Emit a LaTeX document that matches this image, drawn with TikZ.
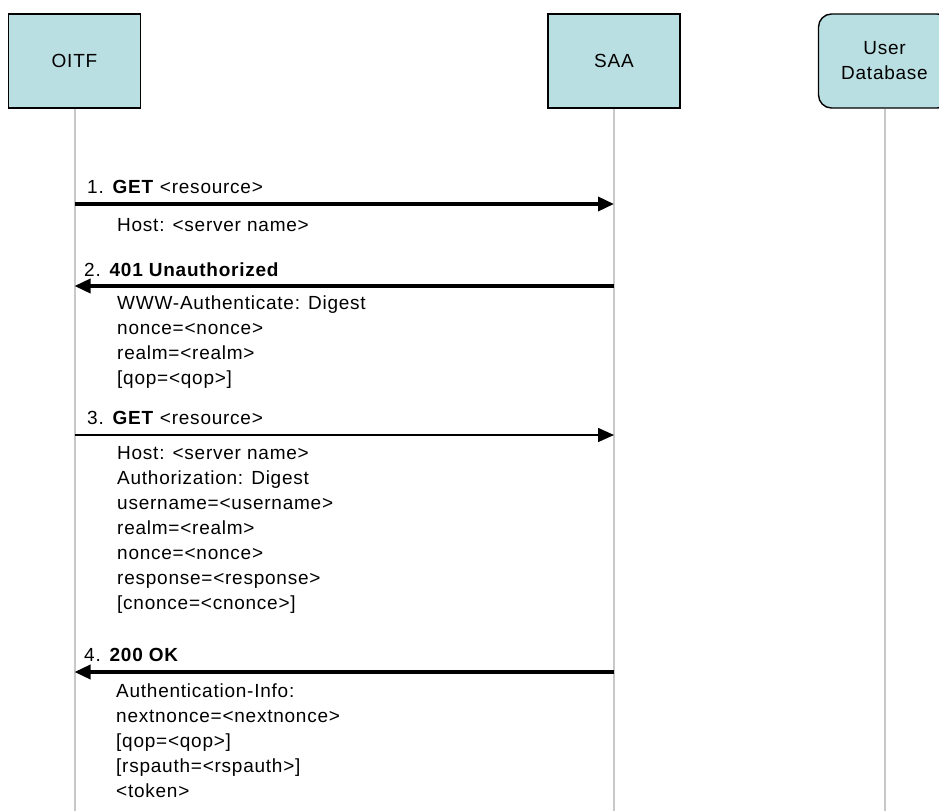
\documentclass[tikz,border=0pt]{standalone}
\usepackage{fontspec}
\setmainfont{Liberation Sans}[LetterSpace=4]
\usetikzlibrary{arrows.meta,positioning}
\definecolor{actorfill}{RGB}{186,223,226}
\definecolor{lifegray}{RGB}{200,200,200}

\begin{document}
\begin{tikzpicture}[x=1pt, y=1pt,
    actor/.style={rectangle, draw=black, line width=1.4pt, fill=actorfill, minimum width=132pt, minimum height=94pt, align=center, font=\fontsize{19}{25}\selectfont},
    store/.style={actor, rounded corners=13pt},
    lifeline/.style={lifegray, line width=2pt},
    msg/.style={-{Triangle[length=16pt,width=14pt]}, line width=3.5pt},
    thinmsg/.style={msg, line width=1.6pt},
    msgtext/.style={anchor=base west, inner sep=0pt, font=\fontsize{19}{25}\selectfont},
    msgbody/.style={msgtext, align=left}
  ]
    \useasboundingbox (0,0) rectangle (939,-811);

    % Actors
    \node[actor] (oitf) at (74.5,-61) {OITF};
    \node[actor] (saa) at (614,-61) {SAA};
    \node[store] (userdb) at (884.5,-61) {User\\Database};

    % Lifelines
    \coordinate (oitf end) at (oitf |- 0,-811);
    \coordinate (saa end) at (saa |- 0,-811);
    \coordinate (userdb end) at (userdb |- 0,-811);
    \draw[lifeline] (oitf) -- (oitf end);
    \draw[lifeline] (saa) -- (saa end);
    \draw[lifeline] (userdb) -- (userdb end);

    % Message points
    \coordinate (o1) at (oitf |- 0,-204);
    \coordinate (s1) at (saa |- 0,-204);
    \coordinate (o2) at (oitf |- 0,-286);
    \coordinate (s2) at (saa |- 0,-286);
    \coordinate (o3) at (oitf |- 0,-435);
    \coordinate (s3) at (saa |- 0,-435);
    \coordinate (o4) at (oitf |- 0,-672);
    \coordinate (s4) at (saa |- 0,-672);

    % Messages
    \draw[msg] (o1) -- (s1);
    \draw[msg] (s2) -- (o2);
    \draw[thinmsg] (o3) -- (s3);
    \draw[msg] (s4) -- (o4);

    % Labels (multi-line bodies sit on their last baseline)
    \node[msgtext] (t1) at (87,-193) {1. \textbf{GET} <resource>};
    \node[msgbody] (b1) at (117,-231) {Host: <server name>};

    \node[msgtext] (t2) at (84,-276) {2. \textbf{401 Unauthorized}};
    \node[msgbody] (b2) at (117,-384) {WWW-Authenticate: Digest\\nonce=<nonce>\\realm=<realm>\\{[qop=<qop>]}};

    \node[msgtext] (t3) at (87,-424) {3. \textbf{GET} <resource>};
    \node[msgbody] (b3) at (117,-609) {Host: <server name>\\Authorization: Digest\\username=<username>\\realm=<realm>\\nonce=<nonce>\\response=<response>\\{[cnonce=<cnonce>]}};

    \node[msgtext] (t4) at (84,-661) {4. \textbf{200 OK}};
    \node[msgbody] (b4) at (116,-797) {Authentication-Info:\\nextnonce=<nextnonce>\\{[qop=<qop>]}\\{[rspauth=<rspauth>]}\\<token>};
\end{tikzpicture}
\end{document}
